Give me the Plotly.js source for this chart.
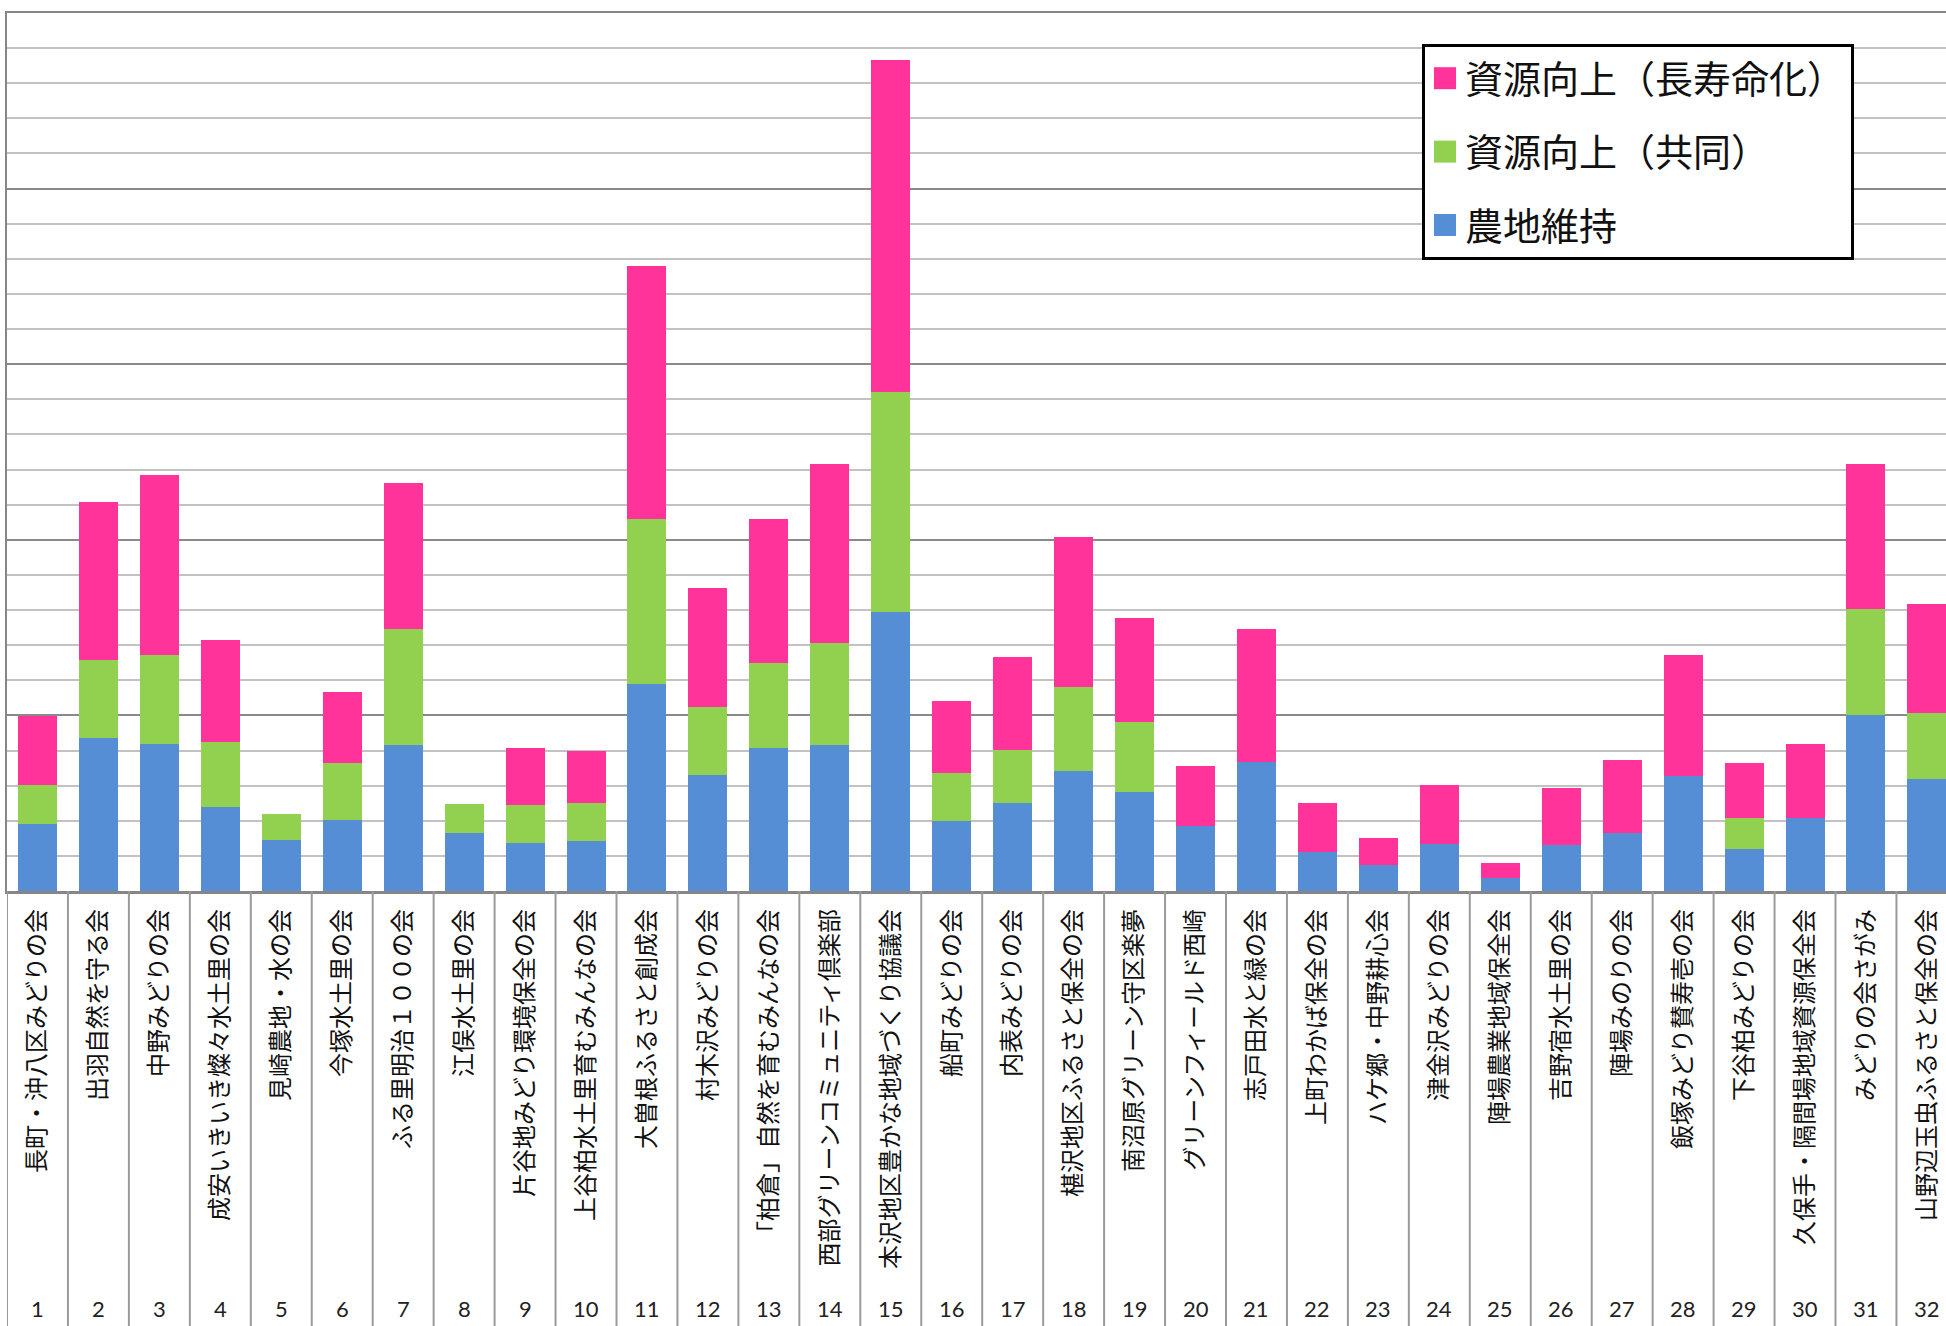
<!DOCTYPE html>
<html>
<head>
<meta charset="utf-8">
<script src="https://cdn.plot.ly/plotly-3.0.1.min.js"></script>
<style>html,body{margin:0;padding:0;background:#fff;}</style>
</head>
<body>
<div id="chart" style="width:1946px;height:1326px;"></div>
<script>
const nums = [1,2,3,4,5,6,7,8,9,10,11,12,13,14,15,16,17,18,19,20,21,22,23,24,25,26,27,28,29,30,31,32];
const names = [
  "長町・沖八区みどりの会","出羽自然を守る会","中野みどりの会","成安いきいき燦々水土里の会",
  "見崎農地・水の会","今塚水土里の会","ふる里明治１００の会","江俣水土里の会",
  "片谷地みどり環境保全の会","上谷柏水土里育むみんなの会","大曽根ふるさと創成会","村木沢みどりの会",
  "「柏倉」自然を育むみんなの会","西部グリーンコミュニティ倶楽部","本沢地区豊かな地域づくり協議会","船町みどりの会",
  "内表みどりの会","椹沢地区ふるさと保全の会","南沼原グリーン守区楽夢","グリーンフィールド西崎",
  "志戸田水と緑の会","上町わかば保全の会","ハケ郷・中野耕心会","津金沢みどりの会",
  "陣場農業地域保全会","吉野宿水土里の会","陣場みのりの会","飯塚みどり賛寿壱の会",
  "下谷柏みどりの会","久保手・隔間場地域資源保全会","みどりの会さがみ","山野辺玉虫ふるさと保全の会"
];
const seriesNames = ["農地維持","資源向上（共同）","資源向上（長寿命化）"];
const farmland = [1.91,4.37,4.20,2.40,1.45,2.02,4.16,1.66,1.36,1.41,5.90,3.29,4.06,4.17,7.95,1.99,2.51,3.42,2.82,1.84,3.67,1.10,0.74,1.35,0.36,1.31,1.66,3.28,1.21,2.09,5.00,3.18];
const joint = [1.12,2.21,2.52,1.85,0.74,1.62,3.29,0.81,1.08,1.10,4.69,1.96,2.42,2.90,6.26,1.36,1.51,2.38,2.00,null,null,null,null,null,null,null,null,null,0.88,null,3.02,1.89];
const longevity = [1.96,4.49,5.13,2.89,null,2.02,4.18,null,1.63,1.47,7.22,3.37,4.11,5.09,9.46,2.07,2.64,4.29,2.95,1.71,3.78,1.40,0.78,1.68,0.43,1.61,2.07,3.43,1.55,2.10,4.15,3.10];

const colors = ["#558ED5","#92D050","#FF3399"];
const values = [farmland, joint, longevity];

const W = 1946, H = 1326;
const mL = 7, mR = 0, mT = 13, mB = 435;
const plotW = W - mL - mR, plotH = H - mT - mB;
const catW = 60.95;
const xMax = 0.5 + plotW / catW;

const traces = values.map((v, i) => ({
  type: "bar",
  name: seriesNames[i],
  x: nums,
  y: v,
  legendgroup: "g" + i,
  legendrank: 1000 - i,
  marker: {color: colors[i], line: {width: 0}},
  hoverinfo: "x+y+name"
}));

const shapes = [];
for (let i = 0; i <= nums.length; i++) {
  shapes.push({
    type: "line", xref: "x", yref: "paper",
    x0: nums[0] - 0.5 + i, x1: nums[0] - 0.5 + i,
    y0: 0, y1: -(mB + 20) / plotH,
    line: {color: "#9a9a9a", width: 2}
  });
}

const annotations = nums.map(n => ({
  x: n, xref: "x", y: -(1308 - (H - mB)) / plotH, yref: "paper",
  text: String(n), showarrow: false, xanchor: "center", yanchor: "middle",
  font: {family: "Lato, 'Open Sans', sans-serif", size: 22, color: "#222"}
}));

const layout = {
  width: W, height: H,
  margin: {l: mL, r: mR, t: mT, b: mB, pad: 0},
  paper_bgcolor: "#fff", plot_bgcolor: "#fff",
  barmode: "stack",
  bargap: 0.36,
  showlegend: true,
  legend: {
    x: (1422 - mL) / plotW, y: (H - mB - 44) / plotH,
    xanchor: "left", yanchor: "top",
    bordercolor: "#000", borderwidth: 3, bgcolor: "#fff",
    traceorder: "grouped",
    tracegroupgap: 21,
    font: {family: "'Noto Sans CJK JP', sans-serif", size: 38, color: "#111"}
  },
  xaxis: {
    range: [0.5, xMax],
    tickmode: "array", tickvals: nums, ticktext: names,
    tickangle: -90,
    ticks: "",
    ticklabelstandoff: 6,
    tickfont: {family: "'Noto Sans CJK JP', sans-serif", size: 24, color: "#111"},
    showgrid: false, zeroline: false,
    showline: true, linecolor: "#868686", linewidth: 2.5, mirror: true,
    automargin: false, fixedrange: true
  },
  yaxis: {
    range: [0, 25], tick0: 0, dtick: 5,
    showticklabels: false, ticks: "",
    showgrid: true, gridcolor: "#8a8a8a", gridwidth: 2,
    minor: {dtick: 1, showgrid: true, gridcolor: "#c2c2c2", gridwidth: 2},
    zeroline: false,
    showline: true, linecolor: "#868686", linewidth: 2.5, mirror: false,
    automargin: false, fixedrange: true
  },
  shapes: shapes,
  annotations: annotations
};

Plotly.newPlot("chart", traces, layout, {displayModeBar: false, staticPlot: true}).then(gd => {
  gd.querySelectorAll(".legend .legendpoints path").forEach(p => p.setAttribute("d", "M11,11H-11V-11H11Z"));
});
</script>
</body>
</html>
